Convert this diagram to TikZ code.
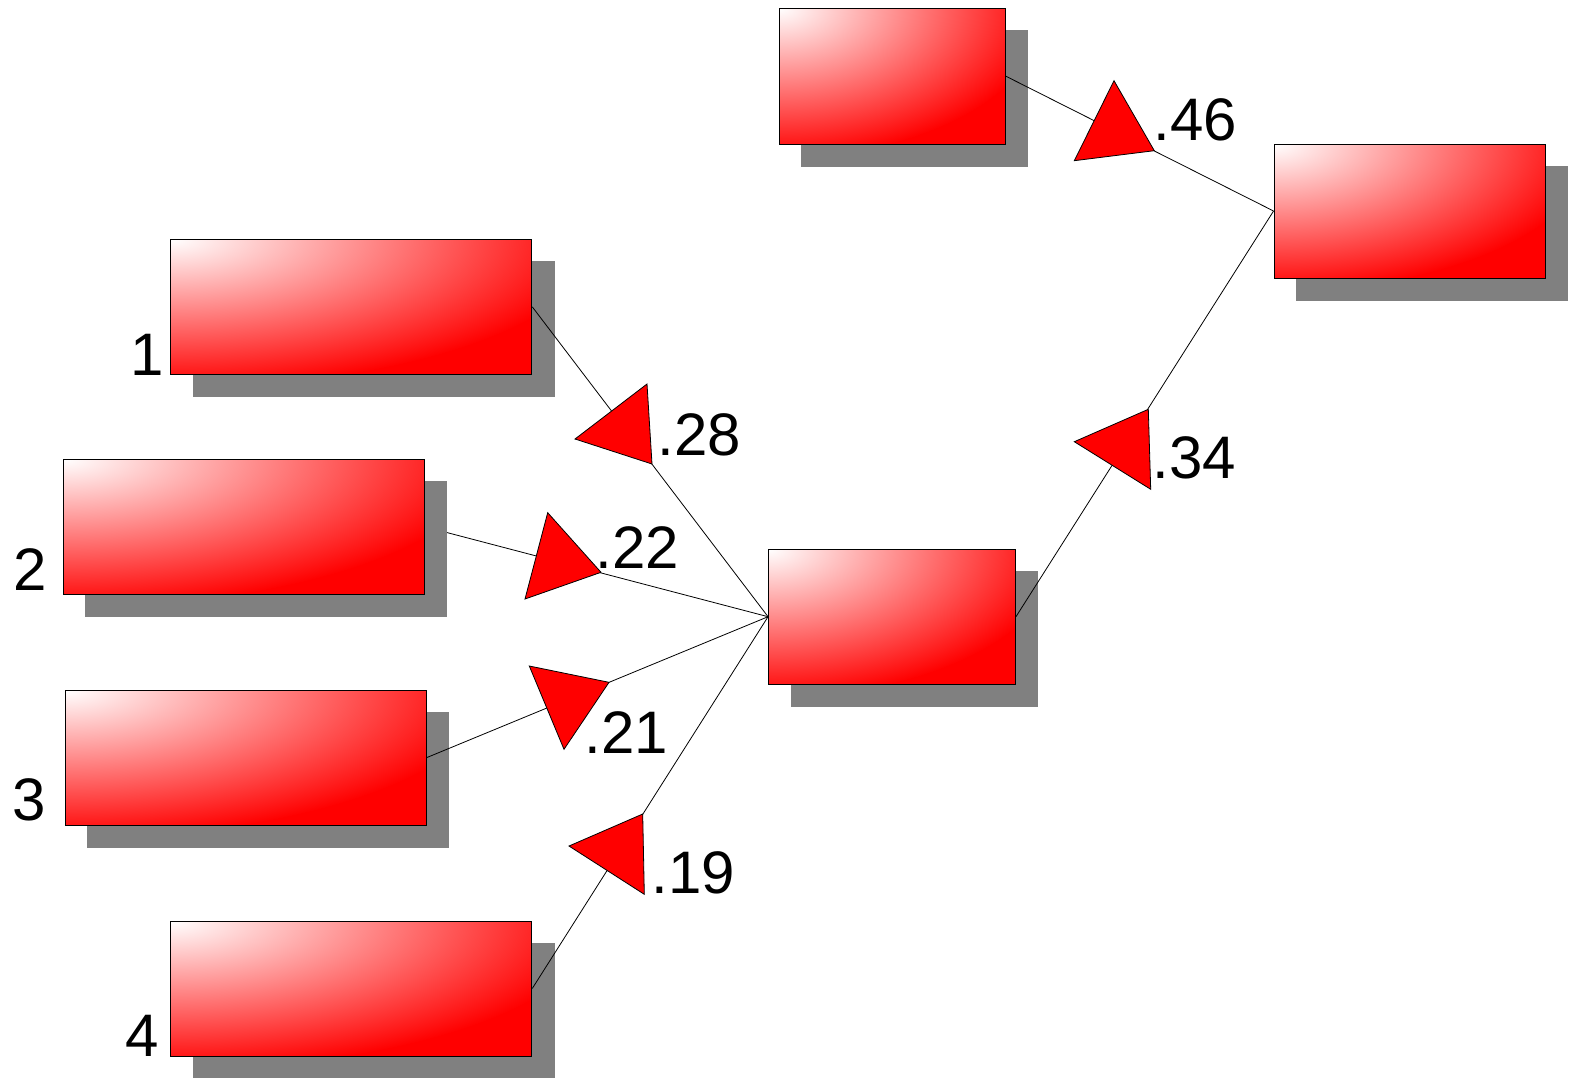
\documentclass[tikz,border=0pt]{standalone}
\usepackage{fontspec}
\setmainfont{Liberation Sans}
\usetikzlibrary{calc}
\pgfdeclarelayer{bg}\pgfdeclarelayer{shd}
\pgfsetlayers{bg,shd,main}
\tikzset{
 box/.style={rectangle, draw=black, fill=red, line width=0.9pt, inner sep=0pt,
   path picture={\shade[inner color=white, outer color=red]
     let \p1=(path picture bounding box.north west), \p2=(path picture bounding box.south east)
     in (\p1) ellipse [x radius={1.18*(\x2-\x1)}, y radius={1.1*(\y1-\y2)}];}},
 conn/.style={draw=black, line width=0.8pt},
 tri/.style={fill=red, draw=black, line width=0.8pt, line join=miter},
 lbl/.style={font=\fontsize{60}{72}\selectfont, inner sep=0pt, anchor=base west},
 shadowfill/.style={fill=black!50}
}
\newcommand{\boxshadow}[1]{\fill[shadowfill] ([shift={(22.5,22.5)}]#1.north west) rectangle ([shift={(22.5,22.5)}]#1.south east);}
\begin{document}
\begin{tikzpicture}[x=1pt,y=-1pt]
\useasboundingbox (0,0) rectangle (1576,1077);
% boxes
\node[box, minimum width=226pt, minimum height=136pt] (A) at (892,76) {};
\node[box, minimum width=271pt, minimum height=134pt] (B) at (1409.5,211) {};
\node[box, minimum width=361pt, minimum height=135pt] (b1) at (351.3,306.8) {};
\node[box, minimum width=361pt, minimum height=135pt] (b2) at (243.7,526.7) {};
\node[box, minimum width=361pt, minimum height=135pt] (b3) at (245.5,757.7) {};
\node[box, minimum width=361pt, minimum height=135pt] (b4) at (351.3,988.5) {};
\node[box, minimum width=247pt, minimum height=135pt] (M) at (892,616.7) {};
% shadows
\begin{pgfonlayer}{shd}
\boxshadow{A}\boxshadow{B}\boxshadow{b1}\boxshadow{b2}\boxshadow{b3}\boxshadow{b4}\boxshadow{M}
\end{pgfonlayer}
% connectors
\begin{pgfonlayer}{bg}
\draw[conn] (b2.east) -- (M.west);
\end{pgfonlayer}
\draw[conn] (b1.east) -- (M.west);
\draw[conn] (b3.east) -- (M.west);
\draw[conn] (b4.east) -- (M.west);
\draw[conn] (M.east) -- (B.west);
\draw[conn] (A.east) -- (B.west);
% triangles
\draw[tri] (647,384) -- (575,439) -- (652,464) -- cycle;
\draw[tri] (547.7,512.7) -- (525,599) -- (601,572.3) -- cycle;
\draw[tri] (529.3,666) -- (609,682.3) -- (564,749.3) -- cycle;
\draw[tri] (642.7,814) -- (569,846) -- (644.3,894.3) -- cycle;
\draw[tri] (1114,80.7) -- (1074.3,160.7) -- (1154.3,150.7) -- cycle;
\draw[tri] (1148.3,409.3) -- (1074.3,441.7) -- (1150.7,489.3) -- cycle;
% weight labels
\node[lbl] (w28) at (657.5,455) {.28};
\node[lbl] (w22) at (595.5,568) {.22};
\node[lbl] (w21) at (584.5,753) {.21};
\node[lbl] (w19) at (651.5,893) {.19};
\node[lbl] (w46) at (1153.5,140) {.46};
\node[lbl] (w34) at (1152.5,478) {.34};
% box labels
\node[lbl] (l1) at (130.5,375) {1};
\node[lbl] (l2) at (13,590) {2};
\node[lbl] (l3) at (12.4,820) {3};
\node[lbl] (l4) at (125.4,1056) {4};
\end{tikzpicture}
\end{document}
